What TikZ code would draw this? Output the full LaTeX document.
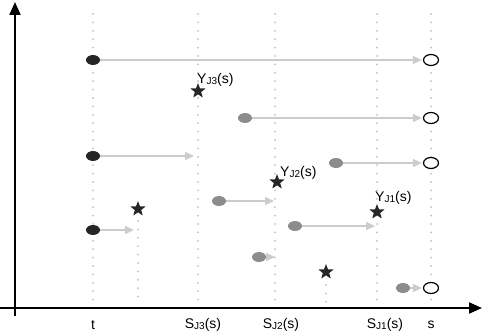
\documentclass[tikz,border=0pt]{standalone}
\usepackage{fontspec}
\setmainfont{Liberation Sans}
\usepackage{tikz}
\usetikzlibrary{arrows.meta,shapes.geometric}
\newcommand{\sbs}[1]{\raisebox{-0.6pt}{\fontsize{10}{10}\selectfont #1}}

\begin{document}
\begin{tikzpicture}[x=1pt,y=-1pt,font=\fontsize{14}{16}\selectfont,
  blackdot/.style={ellipse,fill=black!85,minimum width=14pt,minimum height=10pt,inner sep=0pt},
  greydot/.style={ellipse,fill=black!45,minimum width=14pt,minimum height=10pt,inner sep=0pt},
  opendot/.style={ellipse,draw,line width=1.2pt,fill=white,minimum width=15pt,minimum height=11pt,inner sep=0pt},
  starmark/.style={star,star points=5,star point ratio=2.4,fill=black!85,minimum size=16pt,inner sep=0pt},
  guide/.style={black!25,line width=2pt,line cap=round,dash pattern=on 0pt off 8.4pt},
  flow/.style={-{Triangle[length=9pt,width=8pt]},black!20,line width=1.3pt,shorten >=1pt},
  axis/.style={-{Triangle[length=13pt,width=11pt]},line width=2pt}]
\useasboundingbox (0,0) rectangle (482,334);
% guides
\foreach \gx in {93,198,275,377,431}
  \draw[guide] (\gx,14) -- (\gx,302);
\draw[guide] (138,221) -- (138,302);
\draw[guide] (326,285) -- (326,302);
% axes
\coordinate (ybot) at (15,316); \coordinate (ytop) at (15,2);
\coordinate (xl) at (0,308); \coordinate (xr) at (482,308);
\draw[axis] (ybot) -- (ytop);
\draw[axis] (xl) -- (xr);
% arrivals
\node[blackdot] (b1) at (93,60) {};
\node[opendot] (o1) at (431,60) {};
\draw[flow] (b1) -- (o1);
\node[starmark] (y3) at (198,91) {};
\node[anchor=west,inner sep=0pt] (ly3) at (197,80) {Y\sbs{J3}(s)};
\node[greydot] (g1) at (245,118) {};
\node[opendot] (o2) at (431,118) {};
\draw[flow] (g1) -- (o2);
\node[blackdot] (b2) at (93,156) {};
\coordinate (e2) at (195,156);
\draw[flow] (b2) -- (e2);
\node[greydot] (g2) at (336,163) {};
\node[opendot] (o3) at (431,163) {};
\draw[flow] (g2) -- (o3);
\node[starmark] (y2) at (277,182) {};
\node[anchor=west,inner sep=0pt] (ly2) at (280,173) {Y\sbs{J2}(s)};
\node[greydot] (g3) at (219,201) {};
\coordinate (e3) at (275,201);
\draw[flow] (g3) -- (e3);
\node[starmark] (s1) at (138,209) {};
\node[starmark] (y1) at (377,212) {};
\node[anchor=west,inner sep=0pt] (ly1) at (375,198) {Y\sbs{J1}(s)};
\node[blackdot] (b3) at (93,230) {};
\coordinate (e4) at (135,230);
\draw[flow] (b3) -- (e4);
\node[greydot] (g4) at (295,226) {};
\coordinate (e5) at (376,226);
\draw[flow] (g4) -- (e5);
\node[greydot] (g5) at (259,257) {};
\coordinate (e6) at (276,257);
\draw[flow] (g5) -- (e6);
\node[starmark] (s2) at (326,272) {};
\node[greydot] (g6) at (403,288) {};
\node[opendot] (o4) at (431,288) {};
\draw[flow] (g6) -- (o4);
% axis labels
\node (lt) at (93,325) {t};
\node (lj3) at (203,325) {S\sbs{J3}(s)};
\node (lj2) at (281,325) {S\sbs{J2}(s)};
\node (lj1) at (385,325) {S\sbs{J1}(s)};
\node (ls) at (431,325) {s};
\end{tikzpicture}
\end{document}
